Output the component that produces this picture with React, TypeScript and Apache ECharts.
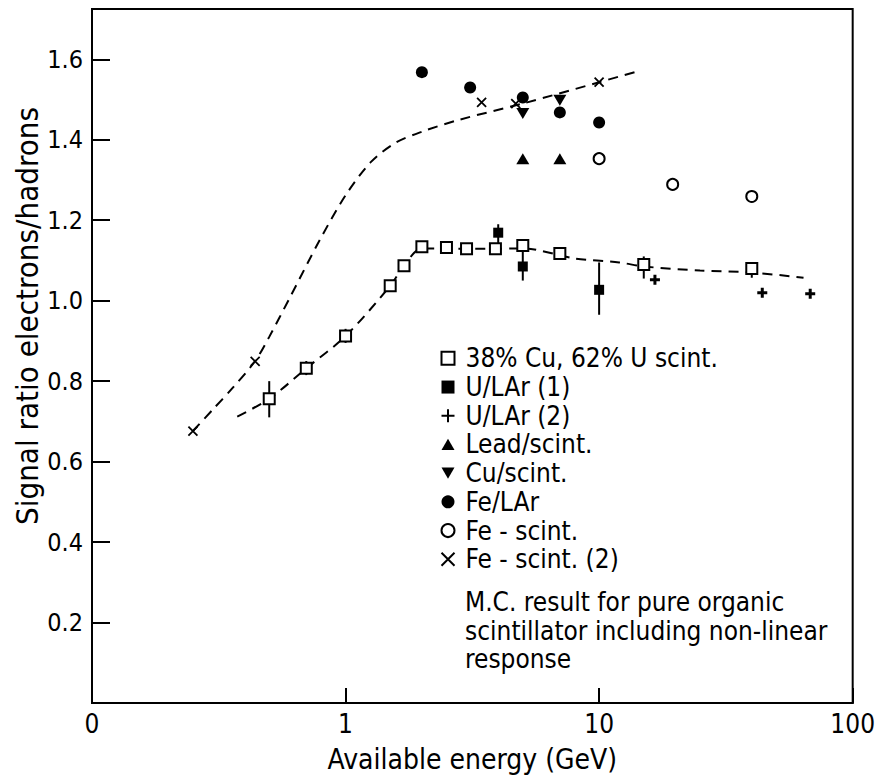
import React, { useEffect, useRef } from "react";
import * as echarts from "echarts";

const FONT = '"DejaVu Sans Condensed", "DejaVu Sans", sans-serif';

// 38% Cu, 62% U scint.
const cuUX = [0.5, 0.7, 1.0, 1.5, 1.7, 2.0, 2.5, 3.0, 3.9, 5.0, 7.0, 15, 40];
const cuUY = [0.756, 0.832, 0.912, 1.037, 1.087, 1.134, 1.132, 1.129, 1.129, 1.137, 1.117, 1.09, 1.08];
// U/LAr (1)
const uLAr1X = [4.0, 5.0, 10];
const uLAr1Y = [1.169, 1.085, 1.027];
// U/LAr (2)
const uLAr2X = [16.6, 44, 68];
const uLAr2Y = [1.052, 1.02, 1.017];
// Lead/scint.
const leadX = [5, 7];
const leadY = [1.353, 1.353];
// Cu/scint.
const cuScX = [5, 7];
const cuScY = [1.465, 1.498];
// Fe/LAr
const feLArX = [2, 3.1, 5, 7, 10];
const feLArY = [1.568, 1.53, 1.505, 1.468, 1.443];
// Fe - scint.
const feScX = [10, 19.5, 40];
const feScY = [1.353, 1.289, 1.259];
// Fe - scint. (2)
const feSc2X = [0.25, 0.44, 3.44, 4.69, 10];
const feSc2Y = [0.676, 0.849, 1.493, 1.49, 1.543];

// error bars: x, low, high
const errX = [0.5, 0.7, 1.0, 15, 40, 4.0, 5.0, 10];
const errLo = [0.71, 0.815, 0.895, 1.055, 1.057, 1.13, 1.05, 0.965];
const errHi = [0.8, 0.85, 0.93, 1.11, 1.095, 1.19, 1.126, 1.095];

// dashed curves
const curveAX = [0.25, 0.3, 0.355, 0.44, 0.5, 0.6, 0.79, 1.0, 1.26, 1.58, 2.0, 2.82, 5.0, 10, 13.8];
const curveAY = [0.676, 0.73, 0.78, 0.85, 0.91, 1.005, 1.15, 1.262, 1.345, 1.393, 1.42, 1.45, 1.49, 1.543, 1.568];
const curveBX = [0.374, 0.5, 0.7, 1.0, 1.5, 1.7, 2.0, 3.0, 4.0, 5.0, 8.0, 12, 15, 25, 40, 64];
const curveBY = [0.712, 0.756, 0.832, 0.912, 1.037, 1.087, 1.13, 1.129, 1.129, 1.13, 1.105, 1.095, 1.085, 1.075, 1.07, 1.057];

const xTickLabels: Record<string, string> = { "0.1": "0", "1": "1", "10": "10", "100": "100" };
const legendNames = [
  "38% Cu, 62% U scint.",
  "U/LAr (1)",
  "U/LAr (2)",
  "Lead/scint.",
  "Cu/scint.",
  "Fe/LAr",
  "Fe - scint.",
  "Fe - scint. (2)",
];
const noteLines = [
  "M.C. result for pure organic",
  "scintillator including non-linear",
  "response",
];

const zip = (xs: number[], ys: number[]) => xs.map((x, i) => [x, ys[i]]);

export default function App() {
  const ref = useRef<HTMLDivElement>(null);
  useEffect(() => {
    if (!ref.current) return;
    const chart = echarts.init(ref.current, undefined, { renderer: "svg" });
    const dash = { color: "#000", width: 2, type: [10, 7] as any };
    const scatterBase = { type: "scatter", z: 4 };
    const option: any = {
      animation: false,
      backgroundColor: "#fff",
      textStyle: { fontFamily: FONT, color: "#000" },
      grid: { left: 92, right: 21, top: 9, bottom: 81, show: true, borderColor: "#000", borderWidth: 2 },
      legend: {
        data: legendNames,
        orient: "vertical",
        left: 434,
        top: 339,
        itemWidth: 13,
        itemHeight: 13,
        itemGap: 0,
        selectedMode: false,
        textStyle: { fontFamily: FONT, fontSize: 26, color: "#000", lineHeight: 28.7, padding: [0, 0, 0, 6] },
      },
      xAxis: {
        type: "log",
        logBase: 10,
        min: 0.1,
        max: 100,
        name: "Available energy (GeV)",
        nameLocation: "middle",
        nameGap: 42,
        nameTextStyle: { fontFamily: FONT, fontSize: 28, color: "#000" },
        axisLine: { show: true, lineStyle: { color: "#000", width: 2 } },
        axisTick: { show: true, inside: true, length: 15, lineStyle: { color: "#000", width: 2 } },
        minorTick: { show: false },
        axisLabel: {
          fontFamily: FONT,
          fontSize: 26,
          color: "#000",
          margin: 8,
          formatter: (v: number) => {
            const k = String(Math.round(v * 10) / 10);
            return xTickLabels[k] ?? "";
          },
        },
        splitLine: { show: false },
      },
      yAxis: {
        type: "value",
        min: 0,
        max: 1.725,
        interval: 0.2,
        axisLine: { show: true, lineStyle: { color: "#000", width: 2 } },
        axisTick: { show: true, inside: true, length: 18, lineStyle: { color: "#000", width: 2 } },
        axisLabel: {
          fontFamily: FONT,
          fontSize: 25,
          color: "#000",
          margin: 9,
          showMaxLabel: false,
          formatter: (v: number) => (v === 0 || v > 1.7 ? "" : v.toFixed(1)),
        },
        splitLine: { show: false },
      },
      graphic: [
        {
          type: "text",
          x: 27,
          y: 316,
          rotation: Math.PI / 2,
          style: {
            text: "Signal ratio electrons/hadrons",
            font: `31px ${FONT}`,
            fill: "#000",
            textAlign: "center",
            textVerticalAlign: "middle",
          },
        },
        ...noteLines.map((t, i) => ({
          type: "text",
          x: 465,
          y: 602 + i * 28.5,
          style: { text: t, font: `26px ${FONT}`, fill: "#000", textAlign: "left", textVerticalAlign: "middle" },
        })),
      ],
      series: [
        {
          name: "curveA",
          type: "line",
          data: zip(curveAX, curveAY),
          symbol: "none",
          smooth: 0.3,
          lineStyle: dash,
          z: 1,
        },
        {
          name: "curveB",
          type: "line",
          data: zip(curveBX, curveBY),
          symbol: "none",
          smooth: 0.3,
          lineStyle: dash,
          z: 1,
        },
        {
          name: "errors",
          type: "custom",
          z: 2,
          data: errX.map((x, i) => [x, errLo[i], errHi[i]]),
          encode: { x: 0, y: [1, 2] },
          renderItem: (_p: any, api: any) => {
            const x = api.value(0);
            const a = api.coord([x, api.value(1)]);
            const b = api.coord([x, api.value(2)]);
            return {
              type: "line",
              shape: { x1: a[0], y1: a[1], x2: b[0], y2: b[1] },
              style: { stroke: "#000", lineWidth: 2 },
            };
          },
        },
        {
          ...scatterBase,
          name: legendNames[0],
          data: zip(cuUX, cuUY),
          symbol: "rect",
          symbolSize: 11,
          itemStyle: { color: "#fff", borderColor: "#000", borderWidth: 2, opacity: 1 },
        },
        {
          ...scatterBase,
          name: legendNames[1],
          data: zip(uLAr1X, uLAr1Y),
          symbol: "rect",
          symbolSize: 10,
          itemStyle: { color: "#000", opacity: 1 },
        },
        {
          ...scatterBase,
          name: legendNames[2],
          data: zip(uLAr2X, uLAr2Y),
          symbol: "path://M5,0L5,10M0,5L10,5",
          symbolSize: 10,
          itemStyle: { color: "none", borderColor: "#000", borderWidth: 3, opacity: 1 },
        },
        {
          ...scatterBase,
          name: legendNames[3],
          data: zip(leadX, leadY),
          symbol: "path://M5,0L10,8.66L0,8.66Z",
          symbolSize: [13, 11],
          itemStyle: { color: "#000", opacity: 1 },
        },
        {
          ...scatterBase,
          name: legendNames[4],
          data: zip(cuScX, cuScY),
          symbol: "path://M0,0L10,0L5,8.66Z",
          symbolSize: [13, 11],
          itemStyle: { color: "#000", opacity: 1 },
        },
        {
          ...scatterBase,
          name: legendNames[5],
          data: zip(feLArX, feLArY),
          symbol: "circle",
          symbolSize: 12,
          itemStyle: { color: "#000", opacity: 1 },
        },
        {
          ...scatterBase,
          name: legendNames[6],
          data: zip(feScX, feScY),
          symbol: "circle",
          symbolSize: 11,
          itemStyle: { color: "#fff", borderColor: "#000", borderWidth: 2, opacity: 1 },
        },
        {
          ...scatterBase,
          name: legendNames[7],
          data: zip(feSc2X, feSc2Y),
          symbol: "path://M0,0L10,10M10,0L0,10",
          symbolSize: 9,
          itemStyle: { color: "none", borderColor: "#000", borderWidth: 1.8, opacity: 1 },
        },
      ],
    };
    chart.setOption(option);
    return () => chart.dispose();
  }, []);
  return <div ref={ref} style={{ width: 878, height: 784, position: "absolute", left: 0, top: 0 }} />;
}
